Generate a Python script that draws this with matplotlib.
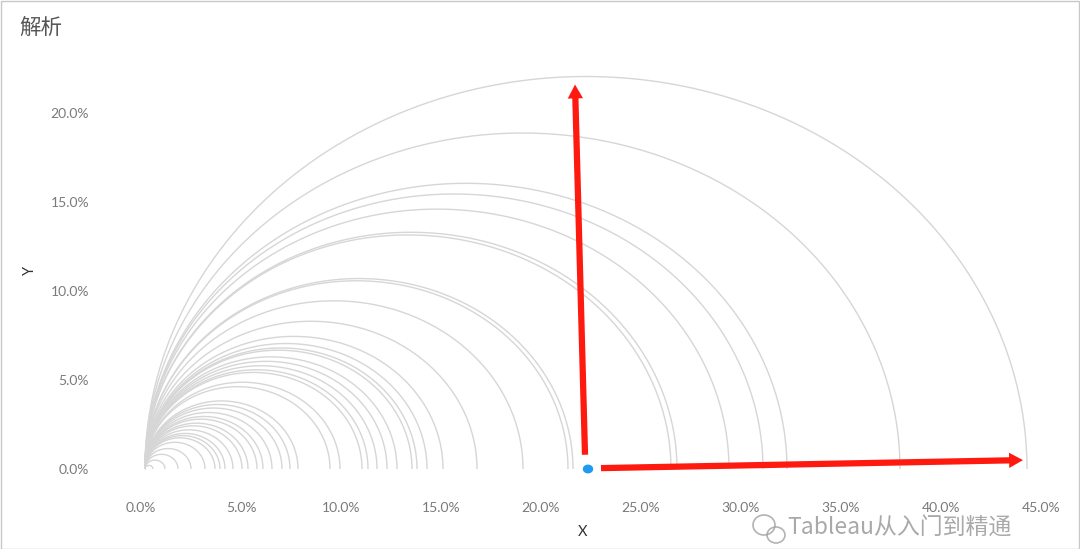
import numpy as np
import matplotlib
matplotlib.use("Agg")
import matplotlib.pyplot as plt
from matplotlib.patches import Rectangle, Ellipse
from matplotlib.transforms import ScaledTranslation

# ---- data (percent units) ----
diameters = [0.4, 1.0, 1.65, 2.3, 3.0, 3.5, 3.75, 4.0, 4.4, 4.85, 5.15, 5.6, 5.9,
             6.35, 6.85, 7.25, 7.65, 9.25, 9.75, 10.85, 11.15, 11.6, 12.1, 12.6,
             13.35, 13.6, 14.1, 14.9, 16.6, 18.9, 21.15, 21.4, 26.3, 26.6, 29.2,
             30.9, 32.1, 37.75, 44.1]
x_ticks = [0, 5, 10, 15, 20, 25, 30, 35, 40, 45]
y_ticks = [0, 5, 10, 15, 20]
center_point = (22.15, 0.0)
arrow_up = ((22.0, 0.8), (21.5, 21.6))
arrow_right = ((22.8, 0.05), (43.9, 0.5))

plt.rcParams['font.family'] = ['Lato', 'Noto Sans CJK SC', 'DejaVu Sans']

W, H = 1080, 549
fig = plt.figure(figsize=(W / 100, H / 100), dpi=100)
fig.patch.set_facecolor('white')
fig.patches.append(Rectangle((0.5 / W, 0.5 / H), 1 - 1.5 / W, 1 - 1.5 / H,
                             transform=fig.transFigure, fill=False,
                             edgecolor='#c8c8c8', linewidth=1.0))

# axes placement in pixels
ax_l, ax_r, ax_t, ax_b = 110, 1060, 60, 480
ax = fig.add_axes([ax_l / W, 1 - ax_b / H, (ax_r - ax_l) / W, (ax_b - ax_t) / H])
x0px, xs = 145, 20.0
y0px, ys = 469, 17.8
ax.set_xlim((ax_l - x0px) / xs, (ax_r - x0px) / xs)
ax.set_ylim(-(ax_b - y0px) / ys, (y0px - ax_t) / ys)

theta = np.linspace(0, np.pi, 400)
for d in diameters:
    r = d / 2
    ax.plot(r + r * np.cos(theta), r * np.sin(theta), color='#d6d6d6',
            linewidth=1.0, solid_capstyle='butt', zorder=2)

ax.add_patch(Ellipse(center_point, 0.45, 0.42, color='#1e9bf0', zorder=5))

for (s, e) in (arrow_up, arrow_right):
    ax.annotate('', xy=e, xytext=s,
                arrowprops=dict(arrowstyle='simple,head_length=1.0,head_width=1.1,tail_width=0.45',
                                color='#ff1a10', lw=0, shrinkA=0, shrinkB=0),
                zorder=6)

for sp in ax.spines.values():
    sp.set_visible(False)
ax.set_xticks(x_ticks)
ax.set_xticklabels([f"{v:.1f}%" for v in x_ticks])
ax.set_yticks(y_ticks)
ax.set_yticklabels([f"{v:.1f}%" for v in y_ticks])
ax.tick_params(axis='both', length=0, labelsize=10, labelcolor='#7a7a7a')
ax.tick_params(axis='x', pad=16)
ax.tick_params(axis='y', pad=15)
shift = ScaledTranslation(-4 / 100, 0, fig.dpi_scale_trans)
for lab in ax.get_xticklabels():
    lab.set_transform(lab.get_transform() + shift)

fig.text(583 / W, 1 - 532 / H, 'X', ha='center', va='center', fontsize=10.5, color='#333333')
fig.text(30 / W, 1 - 270 / H, 'Y', ha='center', va='center', fontsize=10.5, color='#333333', rotation=90)
fig.text(19 / W, 1 - 28 / H, '解析', ha='left', va='center', fontsize=15.5, color='#555555',
         family=['Noto Sans CJK SC', 'DejaVu Sans'])

# watermark (placed just below the tick labels)
wy = 528
fig.patches.append(Ellipse((764 / W, 1 - (wy - 3) / H), 22 / W, 20 / H, transform=fig.transFigure,
                           fill=False, edgecolor='#a0a0a0', linewidth=1.2, alpha=0.8))
fig.patches.append(Ellipse((776 / W, 1 - (wy + 7) / H), 18 / W, 16 / H, transform=fig.transFigure,
                           fill=False, edgecolor='#a0a0a0', linewidth=1.2, alpha=0.8))
fig.text(787 / W, 1 - wy / H, 'Tableau从入门到精通', ha='left', va='center', fontsize=16.5,
         color='#9a9a9a', alpha=0.85, family=['Noto Sans CJK SC', 'DejaVu Sans'])

fig.savefig('out.png', dpi=100, facecolor='white')
